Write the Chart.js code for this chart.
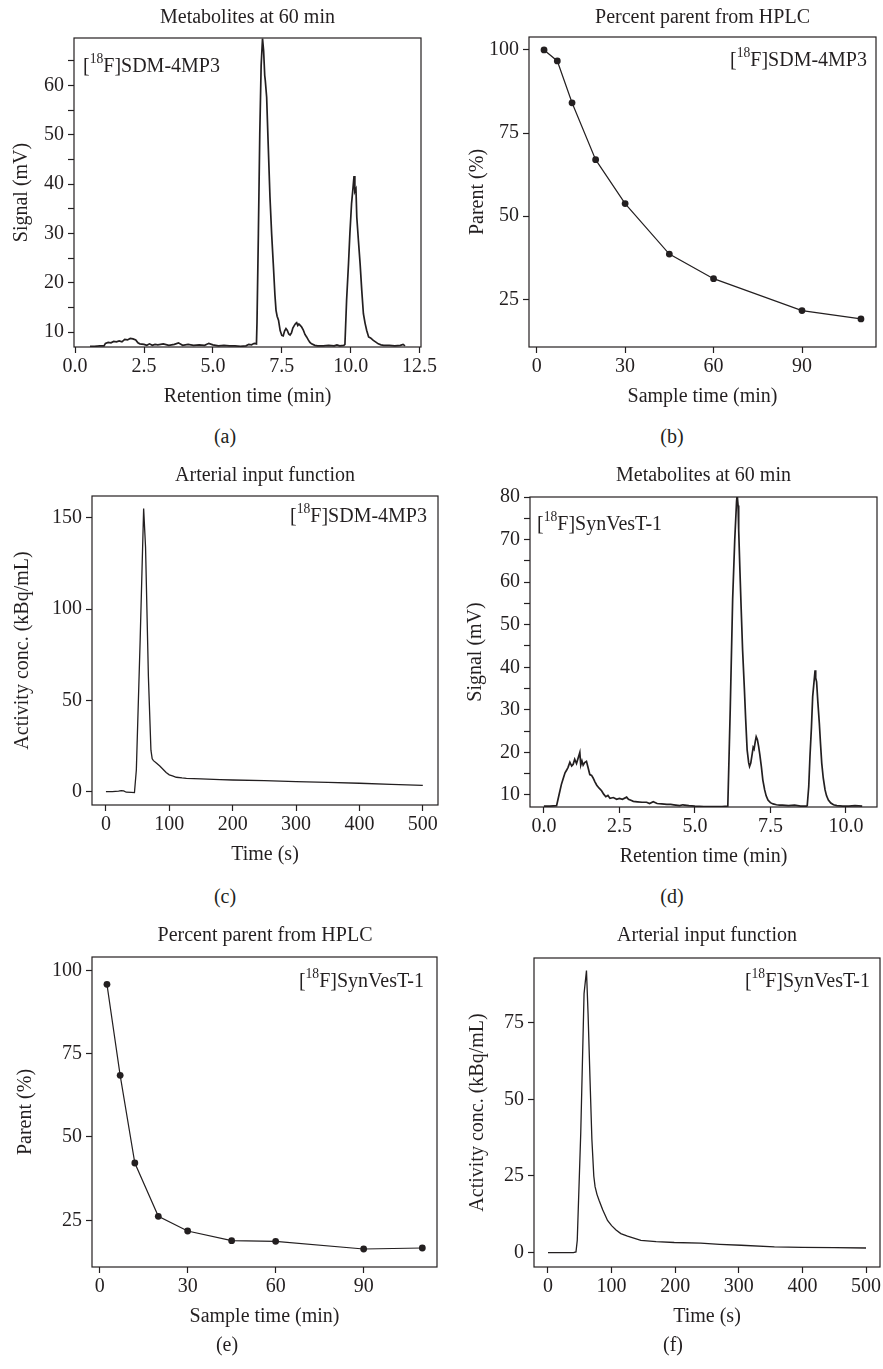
<!DOCTYPE html>
<html>
<head>
<meta charset="utf-8">
<script src="https://cdn.jsdelivr.net/npm/chart.js@4.4.1/dist/chart.umd.min.js"></script>
<style>
  body { margin: 0; background: #fff; }
  #fig { position: relative; width: 883px; height: 1369px; overflow: hidden;
         font-family: "Liberation Serif", serif; color: #231f20; }
  .txt { position: absolute; font-size: 20px; line-height: 20px; white-space: nowrap; }
  .txt sup { font-size: 0.68em; line-height: 0; position: relative; top: -0.1em; }
  canvas { position: absolute; }
</style>
</head>
<body>
<div id="fig"></div>
<script>
const INK = "#231f20";

// (a) [18F]SDM-4MP3 radio-HPLC trace at 60 min: [retention time (min), signal (mV)]
const traceA = [
  [0.54, 7.1], [0.7, 7.1], [0.9, 7.2], [1.05, 7.2], [1.1, 7.7], [1.2, 7.9], [1.3, 7.8],
  [1.4, 8.1], [1.5, 8.0], [1.6, 8.2], [1.7, 8.0], [1.8, 8.5], [1.9, 8.4], [2.0, 8.7],
  [2.1, 8.6], [2.2, 8.4], [2.28, 7.8], [2.35, 7.6], [2.5, 7.5], [2.6, 7.3], [2.7, 7.6],
  [2.8, 7.3], [2.9, 7.5], [3.0, 7.4], [3.2, 7.6], [3.4, 7.3], [3.6, 7.5], [3.75, 7.8],
  [3.9, 7.3], [4.1, 7.5], [4.3, 7.3], [4.5, 7.4], [4.7, 7.3], [4.85, 7.7], [5.0, 7.4],
  [5.2, 7.2], [5.4, 7.3], [5.6, 7.2], [5.8, 7.2], [6.0, 7.1], [6.2, 7.2], [6.3, 7.5],
  [6.4, 7.4], [6.5, 7.7], [6.58, 7.6], [6.6, 12], [6.65, 30], [6.7, 50], [6.75, 64],
  [6.8, 69.5], [6.84, 67], [6.88, 62], [6.9, 61], [6.95, 57.6], [7.0, 49], [7.07, 37.4],
  [7.13, 30], [7.19, 23.9], [7.25, 17.5], [7.29, 14.4], [7.33, 13.2], [7.38, 12.4],
  [7.44, 10.3], [7.5, 9.3], [7.55, 9.2], [7.6, 10.2], [7.65, 10.7], [7.7, 10.3],
  [7.75, 9.6], [7.8, 9.4], [7.85, 9.8], [7.9, 10.8], [7.95, 11.3], [8.0, 11.7],
  [8.04, 11.9], [8.08, 11.3], [8.12, 11.6], [8.16, 11.4], [8.22, 11.0], [8.28, 10.4],
  [8.34, 9.5], [8.4, 9.0], [8.46, 8.4], [8.52, 7.9], [8.58, 7.6], [8.7, 7.3], [8.8, 7.2],
  [9.0, 7.2], [9.2, 7.3], [9.4, 7.2], [9.5, 7.4], [9.6, 7.2], [9.75, 7.3], [9.79, 7.5],
  [9.85, 16.4], [9.92, 23.9], [9.97, 30], [10.03, 36], [10.08, 39], [10.12, 41.6],
  [10.15, 38.5], [10.19, 39], [10.22, 33.3], [10.28, 28.5], [10.34, 23.9], [10.4, 18.5],
  [10.46, 13.7], [10.52, 11.8], [10.58, 10.3], [10.65, 9.0], [10.72, 8.8], [10.82, 8.3],
  [10.9, 8.0], [11.0, 7.6], [11.1, 7.4], [11.2, 7.3], [11.4, 7.3], [11.6, 7.2],
  [11.8, 7.3], [11.9, 7.5], [11.97, 7.2]
];

// (b) and (e) percent parent from HPLC
const sampleTimes = [2.5, 7, 12, 20, 30, 45, 60, 90, 110];
const parentSDM = [100, 96.7, 84.1, 67.0, 53.8, 38.6, 31.2, 21.6, 19.1];
const parentSynVesT = [95.8, 68.5, 42.2, 26.2, 21.8, 18.9, 18.7, 16.4, 16.7];

// (c) arterial input function, [18F]SDM-4MP3: [time (s), kBq/mL]
const aifSDM = [
  [0, 0], [10, 0], [20, 0.3], [24, 0.6], [28, 0.4], [32, -0.3], [40, -0.4], [45, -0.5],
  [48, 12], [54, 83], [59.5, 155], [62.5, 134], [67, 63], [71, 22.7], [73, 18], [75, 17],
  [80, 15.5], [85, 14], [90, 12.3], [95, 10.5], [100, 9.2], [105, 8.6], [111, 7.9],
  [120, 7.5], [127, 7.3], [150, 7.0], [180, 6.6], [200, 6.4], [250, 6.0], [300, 5.5],
  [350, 5.1], [400, 4.6], [450, 4.0], [500, 3.4]
];

// (d) [18F]SynVesT-1 radio-HPLC trace at 60 min
const traceD = [
  [0.0, 7.4], [0.2, 7.4], [0.42, 7.5], [0.5, 10], [0.58, 12.5], [0.64, 13.9], [0.7, 15.2],
  [0.75, 15.8], [0.8, 16.5], [0.86, 17.7], [0.92, 16.8], [0.97, 17.2], [1.02, 18.4],
  [1.08, 17.4], [1.13, 18.6], [1.19, 20.0], [1.22, 17.0], [1.26, 18.0], [1.3, 17.0],
  [1.35, 17.6], [1.41, 17.9], [1.46, 16.5], [1.52, 14.8], [1.58, 14.6], [1.63, 14.0],
  [1.69, 13.1], [1.75, 12.3], [1.83, 11.6], [1.91, 11.0], [1.98, 10.2], [2.05, 9.6],
  [2.12, 9.9], [2.19, 9.2], [2.3, 9.4], [2.41, 9.0], [2.5, 9.2], [2.6, 9.0], [2.74, 9.5],
  [2.8, 9.0], [2.9, 8.7], [2.96, 8.5], [3.1, 8.4], [3.25, 8.3], [3.4, 8.3], [3.5, 8.0],
  [3.62, 8.4], [3.75, 8.0], [3.9, 7.9], [4.07, 7.8], [4.2, 7.8], [4.3, 7.7], [4.5, 7.5],
  [4.6, 7.7], [4.8, 7.5], [5.0, 7.4], [5.3, 7.3], [5.6, 7.3], [5.9, 7.3], [6.09, 7.4],
  [6.17, 30], [6.25, 55.9], [6.32, 70], [6.38, 79], [6.4, 80.5], [6.43, 78], [6.45, 72.3],
  [6.49, 63], [6.53, 54.3], [6.58, 44], [6.64, 34.7], [6.68, 28], [6.73, 20.6],
  [6.78, 17.6], [6.81, 16.7], [6.85, 17.5], [6.9, 19.8], [6.93, 21.2], [6.96, 20.8],
  [7.0, 22.6], [7.03, 23.7], [7.07, 23.0], [7.11, 21.4], [7.15, 19.5], [7.2, 16.7],
  [7.25, 13.5], [7.31, 11.2], [7.36, 9.8], [7.42, 8.8], [7.5, 8.2], [7.59, 7.9],
  [7.7, 7.7], [7.8, 7.6], [7.9, 7.6], [8.1, 7.5], [8.3, 7.6], [8.5, 7.4], [8.7, 7.4],
  [8.72, 7.5], [8.77, 12], [8.81, 19], [8.86, 26], [8.9, 33.1], [8.95, 37], [8.98, 39.3],
  [9.0, 37.5], [9.03, 36.6], [9.07, 32], [9.12, 26.9], [9.16, 22], [9.2, 17.5],
  [9.25, 14], [9.31, 11.2], [9.36, 9.8], [9.42, 8.8], [9.5, 8.1], [9.59, 7.7],
  [9.7, 7.5], [9.9, 7.4], [10.1, 7.4], [10.3, 7.5], [10.54, 7.4]
];

// (f) arterial input function, [18F]SynVesT-1
const aifSynVesT = [
  [0, 0], [20, 0], [40, 0], [44, 0.2], [46, 4], [51.5, 39], [56.7, 84.5], [60.5, 92],
  [63, 78], [66, 57], [69, 37], [72, 25], [74, 21.5], [77, 19], [80.4, 17], [86, 14],
  [93.6, 10.5], [100, 8.8], [107, 7.4], [114.5, 6.2], [125, 5.4], [146, 4.0], [170, 3.6],
  [198.5, 3.3], [240, 3.1], [270, 2.7], [303.6, 2.4], [356, 1.85], [400, 1.7],
  [450, 1.6], [500, 1.5]
];

// tick values
const retTicksA = [0, 2.5, 5, 7.5, 10, 12.5];
const retTicksD = [0, 2.5, 5, 7.5, 10];
const sigTicksA = [10, 15, 20, 25, 30, 35, 40, 45, 50, 55, 60, 65];
const sigTicksD = [10, 15, 20, 25, 30, 35, 40, 45, 50, 55, 60, 65, 70, 75, 80];
const sampleTicks = [0, 30, 60, 90];
const parentTicks = [25, 50, 75, 100];
const timeTicks = [0, 100, 200, 300, 400, 500];
const aifTicksC = [0, 50, 100, 150];
const aifTicksF = [0, 25, 50, 75];

const fig = document.getElementById("fig");
const FONT = { family: '"Liberation Serif", serif', size: 20 };

function addText(html, x, baseline, align) {
  const d = document.createElement("div");
  d.className = "txt";
  d.innerHTML = html;
  d.style.top = (baseline - 17) + "px";
  if (align === "center") {
    d.style.left = x + "px";
    d.style.transform = "translateX(-50%)";
  } else if (align === "right") {
    d.style.right = (883 - x) + "px";
  } else {
    d.style.left = x + "px";
  }
  fig.appendChild(d);
}

const frame = {
  id: "frame",
  afterDraw(chart) {
    const { ctx, chartArea: a } = chart;
    ctx.save();
    ctx.strokeStyle = INK;
    ctx.lineWidth = 1.2;
    ctx.strokeRect(a.left, a.top, a.right - a.left, a.bottom - a.top);
    ctx.restore();
  }
};

function panel(p) {
  const padTop = 20, xH = 75;
  const boxW = p.box[2] - p.box[0], boxH = p.box[3] - p.box[1];
  const cv = document.createElement("canvas");
  const cw = p.px + 441 + (p.px ? 1 : 0) - p.px;
  const ch = padTop + boxH + xH;
  cv.width = cw; cv.height = ch;
  cv.style.left = p.px + "px";
  cv.style.top = (p.box[1] - padTop) + "px";
  cv.style.width = cw + "px"; cv.style.height = ch + "px";
  fig.appendChild(cv);

  const yW = p.box[0] - p.px;
  const padRight = cw - yW - boxW;
  const tickGrid = { drawOnChartArea: false, drawTicks: true, tickLength: 6, tickColor: INK, tickWidth: 1.2 };

  const ds = {
    data: p.points.map(([x, y]) => ({ x, y })),
    borderColor: INK,
    borderWidth: p.lw,
    pointRadius: p.dots ? 3.4 : 0,
    pointBackgroundColor: INK,
    pointBorderWidth: 0,
    tension: 0,
    fill: false
  };

  new Chart(cv, {
    type: "line",
    data: { datasets: [ds] },
    plugins: [frame],
    options: {
      responsive: false,
      animation: false,
      events: [],
      layout: { padding: { top: padTop, right: padRight, left: 0, bottom: 0 } },
      plugins: { legend: { display: false }, tooltip: { enabled: false } },
      scales: {
        x: {
          type: "linear",
          min: p.xr[0], max: p.xr[1],
          afterBuildTicks: s => { s.ticks = p.xt.map(v => ({ value: v })); },
          afterFit: s => { s.height = xH; s.paddingLeft = 0; s.paddingRight = 0; },
          grid: tickGrid,
          border: { display: false },
          ticks: { color: INK, font: FONT, padding: 2, maxRotation: 0, autoSkip: false,
                   callback: v => p.xfmt ? v.toFixed(1) : String(v) },
          title: { display: true, text: p.xlab, color: INK, font: FONT, padding: { top: 0, bottom: 13 } }
        },
        y: {
          min: p.yr[0], max: p.yr[1],
          afterBuildTicks: s => { s.ticks = p.yt.map(v => ({ value: v })); },
          afterFit: s => { s.width = yW; s.paddingTop = 0; s.paddingBottom = 0; },
          grid: tickGrid,
          border: { display: false },
          ticks: { color: INK, font: FONT, padding: 4, autoSkip: false,
                   callback: v => (p.major && v % p.major !== 0) ? "" : String(v) },
          title: { display: true, text: p.ylab, color: INK, font: FONT,
                   padding: { top: p.ytx - p.px - 12, bottom: 0 } }
        }
      }
    }
  });

  const cx = (p.box[0] + p.box[2]) / 2;
  addText(p.title, cx, p.titleBase, "center");
  addText(p.cap, p.capX, p.capBase, "center");
  addText(p.tag, p.tagX, p.tagBase, p.tagAlign);
}

const SDM = "[<sup>18</sup>F]SDM-4MP3";
const SYN = "[<sup>18</sup>F]SynVesT-1";

panel({ px: 0, box: [74, 38, 421, 347], points: traceA, lw: 1.7, dots: false,
        xr: [-0.04, 12.55], yr: [6.96, 69.6], xt: retTicksA, yt: sigTicksA, xfmt: true, major: 10,
        xlab: "Retention time (min)", ylab: "Signal (mV)", ytx: 22,
        title: "Metabolites at 60 min", titleBase: 23, cap: "(a)", capX: 225, capBase: 443,
        tag: SDM, tagX: 83, tagBase: 72, tagAlign: "left" });

panel({ px: 441, box: [529, 37, 876, 347], points: sampleTimes.map((t, i) => [t, parentSDM[i]]), lw: 1.2, dots: true,
        xr: [-2.6, 115.1], yr: [10.65, 103.9], xt: sampleTicks, yt: parentTicks,
        xlab: "Sample time (min)", ylab: "Parent (%)", ytx: 478,
        title: "Percent parent from HPLC", titleBase: 23, cap: "(b)", capX: 672, capBase: 443,
        tag: SDM, tagX: 867, tagBase: 66, tagAlign: "right" });

panel({ px: 0, box: [92, 496, 438, 805], points: aifSDM, lw: 1.3, dots: false,
        xr: [-22, 524], yr: [-7.3, 161.9], xt: timeTicks, yt: aifTicksC,
        xlab: "Time (s)", ylab: "Activity conc. (kBq/mL)", ytx: 23,
        title: "Arterial input function", titleBase: 481, cap: "(c)", capX: 225, capBase: 903,
        tag: SDM, tagX: 427, tagBase: 522, tagAlign: "right" });

panel({ px: 441, box: [530, 497, 877, 807], points: traceD, lw: 1.7, dots: false,
        xr: [-0.46, 11.03], yr: [7.18, 80], xt: retTicksD, yt: sigTicksD, xfmt: true, major: 10,
        xlab: "Retention time (min)", ylab: "Signal (mV)", ytx: 476,
        title: "Metabolites at 60 min", titleBase: 481, cap: "(d)", capX: 672, capBase: 903,
        tag: SYN, tagX: 537, tagBase: 530, tagAlign: "left" });

panel({ px: 0, box: [92, 957, 438, 1267], points: sampleTimes.map((t, i) => [t, parentSynVesT[i]]), lw: 1.2, dots: true,
        xr: [-2.6, 115], yr: [11, 104], xt: sampleTicks, yt: parentTicks,
        xlab: "Sample time (min)", ylab: "Parent (%)", ytx: 26,
        title: "Percent parent from HPLC", titleBase: 941, cap: "(e)", capX: 227, capBase: 1351,
        tag: SYN, tagX: 424, tagBase: 987, tagAlign: "right" });

panel({ px: 441, box: [534, 958, 880, 1267], points: aifSynVesT, lw: 1.3, dots: false,
        xr: [-22, 522], yr: [-4.7, 96.1], xt: timeTicks, yt: aifTicksF,
        xlab: "Time (s)", ylab: "Activity conc. (kBq/mL)", ytx: 478,
        title: "Arterial input function", titleBase: 941, cap: "(f)", capX: 673, capBase: 1351,
        tag: SYN, tagX: 870, tagBase: 987, tagAlign: "right" });
</script>
</body>
</html>
